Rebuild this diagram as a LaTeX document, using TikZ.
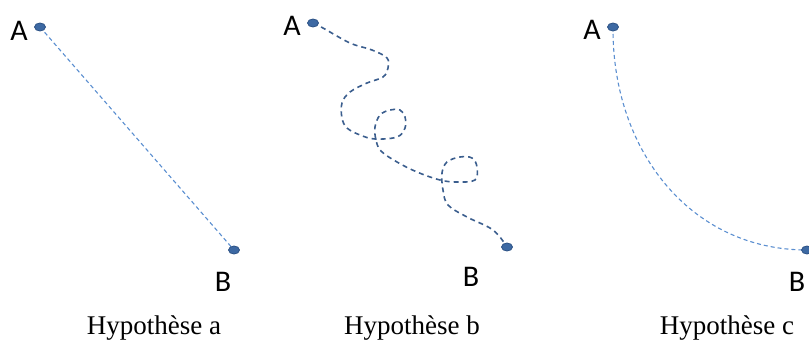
\documentclass[tikz,border=0pt]{standalone}
\usepackage{fontspec}
\setmainfont{Liberation Serif}
\newfontfamily\labelfont{Carlito}
\usetikzlibrary{shapes.geometric,backgrounds}

\definecolor{dotblue}{HTML}{3D69A3}
\definecolor{dotedge}{HTML}{2E5386}
\definecolor{lightpath}{HTML}{5A8ED0}
\definecolor{darkpath}{HTML}{3B5E8E}

\begin{document}
\begin{tikzpicture}[
  x=1pt, y=-1pt,
  dot/.style={draw=dotedge, fill=dotblue, ellipse, minimum width=11pt, minimum height=8pt, inner sep=0pt, line width=0.8pt},
  lbl/.style={font=\labelfont\fontsize{30}{32}\selectfont, inner sep=0pt},
  caption/.style={font=\fontsize{27}{30}\selectfont, inner sep=0pt, anchor=base},
  straight/.style={draw=lightpath, dash pattern=on 4pt off 3pt, line width=1.1pt},
  wander/.style={draw=darkpath, dash pattern=on 5pt off 4pt, line width=1.6pt}
]
\useasboundingbox (0,0) rectangle (809,343);

% Hypothese a
\node[dot] (aA) at (40,27) {};
\node[dot] (aB) at (234,250) {};
\node[lbl] (aAl) at (19,31) {A};
\node[lbl] (aBl) at (223,282) {B};
\node[caption] (capa) at (154,334) {Hypothèse a};

% Hypothese b
\node[dot] (bA) at (313,23) {};
\node[dot] (bB) at (507,247) {};
\node[lbl] (bAl) at (292,26) {A};
\node[lbl] (bBl) at (471,277) {B};
\node[caption] (capb) at (412,334) {Hypothèse b};

% Hypothese c
\node[dot] (cA) at (613,27) {};
\node[dot] (cB) at (807,250) {};
\node[lbl] (cAl) at (592,30) {A};
\node[lbl] (cBl) at (797,282) {B};
\node[caption] (capc) at (727,334) {Hypothèse c};

\begin{pgfonlayer}{background}
\draw[straight] (aA.center) -- (aB.center);
\draw[wander] plot[smooth, tension=0.6] coordinates {
  (bA.center) (323,28) (350,43) (372,50) (387,58) (388,68) (383,77)
  (367,83) (350,92) (342,103) (342,118) (347,128) (360,135) (375,139)
  (397,137) (405,128) (405,117) (400,110) (390,110) (380,115) (375,127)
  (376,140) (381,151) (397,162) (417,172) (440,180) (457,182) (475,180)
  (477,167) (472,158) (460,157) (447,162) (442,173) (443,190) (448,205)
  (467,217) (493,230) (bB.center)};
\draw[straight] (cA.center) .. controls (612,150) and (690,250) .. (cB.center);
\end{pgfonlayer}
\end{tikzpicture}
\end{document}
